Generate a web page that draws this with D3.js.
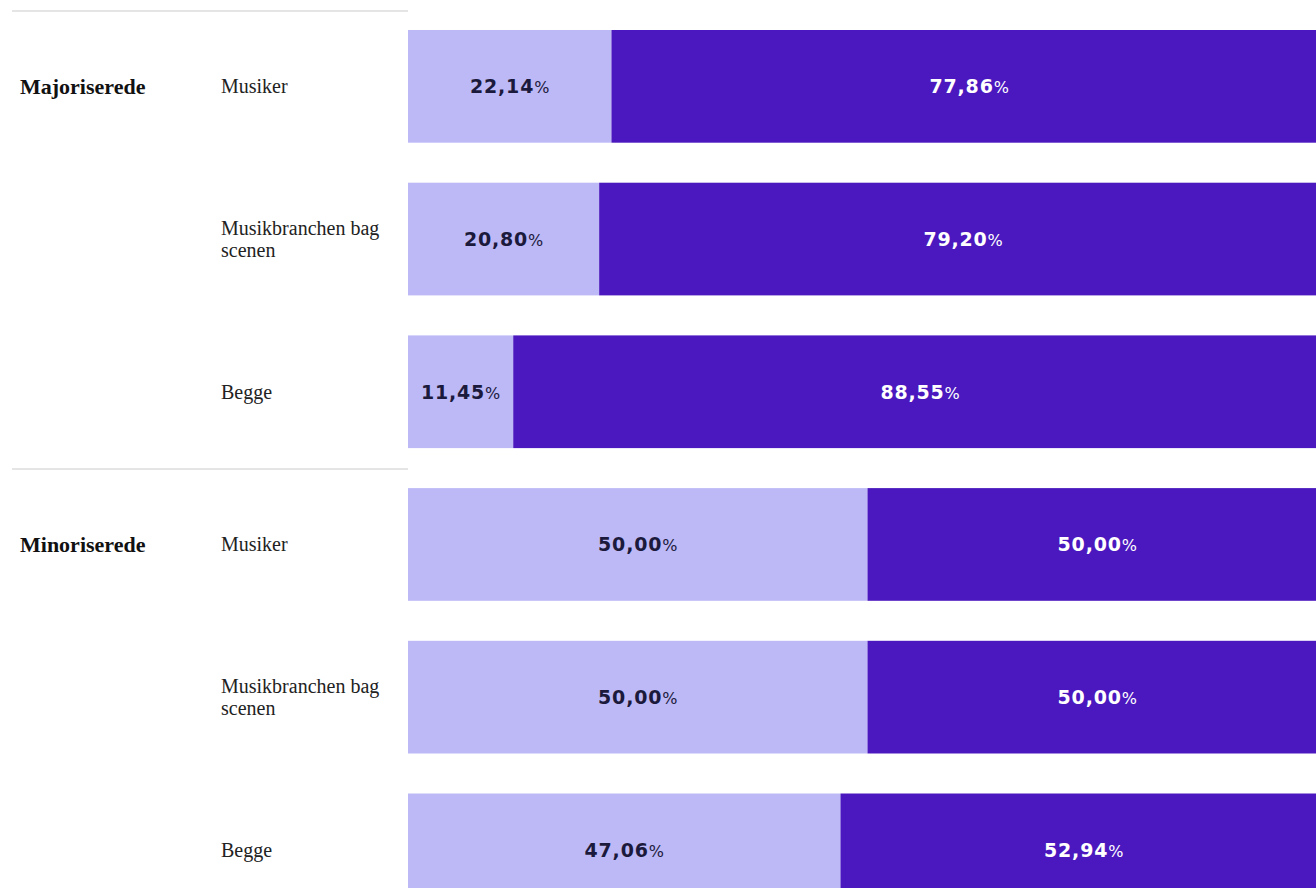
<!DOCTYPE html>
<html><head><meta charset="utf-8">
<script src="https://cdn.jsdelivr.net/npm/d3@7"></script>
<style>
html,body{margin:0;padding:0;background:#fff;overflow:hidden}
</style></head>
<body><svg id="c" width="1316" height="888"></svg>
<script>
const groups = ["Majoriserede", "Minoriserede"];
const subcategories = ["Musiker", "Musikbranchen bag scenen", "Begge"];
const rowGroup = [0, 0, 0, 1, 1, 1];
const rowSub = [0, 1, 2, 0, 1, 2];
const shareA = [22.14, 20.80, 11.45, 50.00, 50.00, 47.06];
const shareB = [77.86, 79.20, 88.55, 50.00, 50.00, 52.94];

const svg = d3.select("#c");
const fmt = v => v.toFixed(2).replace(".", ",");
const rows = d3.range(shareA.length);

const x = d3.scaleLinear().domain([0, 100]).range([408, 1327]);
const y = d3.scaleBand().domain(rows).range([10, 926.2]).paddingInner(0.262).paddingOuter(0.131);

const light = "#bdb9f7", dark = "#4a18be";

// separators
groups.forEach((g, gi) => {
  const first = rows.find(r => rowGroup[r] === gi);
  const yy = y(first) - 19;
  svg.append("line").attr("x1", 12).attr("x2", 408).attr("y1", yy).attr("y2", yy)
    .attr("stroke", "#dcdcdc").attr("stroke-width", 1.5);
  const mid = y(first) + y.bandwidth() / 2;
  svg.append("text").attr("x", 20).attr("y", mid).attr("dy", "0.35em")
    .attr("font-family", "Liberation Serif").attr("font-weight", "bold").attr("font-size", 22)
    .attr("fill", "#111").text(g);
});

// sub labels with wrap
rows.forEach(r => {
  const mid = y(r) + y.bandwidth() / 2;
  const t = svg.append("text").attr("x", 221)
    .attr("font-family", "Liberation Serif").attr("font-size", 20).attr("fill", "#222");
  const words = subcategories[rowSub[r]].split(" ");
  const lines = [];
  let line = [];
  const probe = t.append("tspan");
  words.forEach(w => {
    line.push(w);
    probe.text(line.join(" "));
    if (probe.node().getComputedTextLength() > 180 && line.length > 1) {
      line.pop(); lines.push(line.join(" ")); line = [w];
    }
  });
  lines.push(line.join(" "));
  probe.remove();
  const lh = 22;
  const y0 = mid - (lines.length - 1) * lh / 2;
  lines.forEach((l, i) => t.append("tspan").attr("x", 221).attr("y", y0 + i * lh).attr("dy", "0.35em").text(l));
});

// bars
const segs = [];
rows.forEach(r => {
  segs.push({r, x0: 0, v: shareA[r], fill: light, tc: "#1c1a3c"});
  segs.push({r, x0: shareA[r], v: shareB[r], fill: dark, tc: "#ffffff"});
});
svg.selectAll("rect.bar").data(segs).join("rect").attr("class", "bar")
  .attr("x", d => x(d.x0)).attr("y", d => y(d.r))
  .attr("width", d => x(d.x0 + d.v) - x(d.x0)).attr("height", y.bandwidth())
  .attr("fill", d => d.fill);

const lab = svg.selectAll("text.val").data(segs).join("text").attr("class", "val")
  .attr("x", d => (x(d.x0) + x(d.x0 + d.v)) / 2)
  .attr("y", d => y(d.r) + y.bandwidth() / 2).attr("dy", "0.36em")
  .attr("text-anchor", "middle").attr("font-family", "DejaVu Sans").attr("font-size", 19)
  .attr("fill", d => d.tc);
lab.append("tspan").attr("font-weight", "bold").attr("letter-spacing", 0.8).text(d => fmt(d.v));
lab.append("tspan").attr("font-size", 16).text("%");
</script></body></html>
